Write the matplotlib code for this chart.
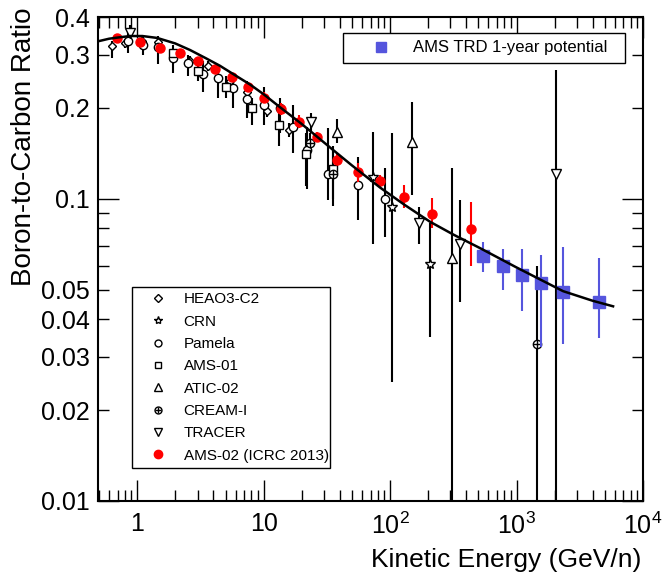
import numpy as np
import matplotlib
matplotlib.use('Agg')
import matplotlib.pyplot as plt
from matplotlib.ticker import FixedLocator, FixedFormatter
from matplotlib.lines import Line2D

plt.rcParams['font.family'] = ['Liberation Sans', 'DejaVu Sans']
plt.rcParams['mathtext.fontset'] = 'custom'
plt.rcParams['mathtext.rm'] = 'Liberation Sans'
plt.rcParams['mathtext.it'] = 'Liberation Sans:italic'
plt.rcParams['mathtext.default'] = 'regular'

# ---------------- data ----------------
curve_E = [0.5, 0.6, 0.7, 0.88, 1.1, 1.44, 2.0, 2.62, 3.5, 4.5, 5.74, 7.82, 10, 13.5, 20,
           33.5, 50, 83.4, 130, 207, 320, 515, 1000, 2333, 4000, 5800]
curve_y = [0.333, 0.339, 0.342, 0.346, 0.346, 0.341, 0.327, 0.311, 0.292, 0.276, 0.259, 0.239,
           0.222, 0.201, 0.177, 0.148, 0.129, 0.109, 0.0956, 0.0840, 0.0760, 0.0687, 0.0593,
           0.0495, 0.0460, 0.0441]

heao_E = [0.63, 0.80, 1.1, 1.45, 2.63, 3.6, 5.4, 7.4, 10.6, 15.9]
heao_y = [0.320, 0.327, 0.333, 0.330, 0.287, 0.275, 0.245, 0.225, 0.196, 0.169]
heao_lo = [0.292, 0.315, 0.320, 0.318, 0.277, 0.265, 0.235, 0.215, 0.187, 0.160]
heao_hi = [0.334, 0.339, 0.346, 0.342, 0.297, 0.285, 0.255, 0.235, 0.205, 0.178]

crn_E = [73.4, 104, 207]
crn_y = [0.118, 0.094, 0.0607]
crn_lo = [0.071, 0.0247, 0.035]
crn_hi = [0.166, 0.165, 0.083]

pam_E = [0.85, 1.12, 1.45, 1.93, 2.53, 3.33, 4.37, 5.74, 7.4, 10.0, 13.5, 17.0, 22.0, 32.3, 55.8, 91.0]
pam_y = [0.333, 0.323, 0.318, 0.293, 0.282, 0.259, 0.251, 0.233, 0.214, 0.205, 0.200, 0.173,
         0.145, 0.121, 0.111, 0.0998]
pam_lo = [0.305, 0.300, 0.280, 0.261, 0.255, 0.225, 0.215, 0.200, 0.185, 0.175, 0.165, 0.142,
          0.108, 0.0995, 0.085, 0.075]
pam_hi = [0.360, 0.350, 0.345, 0.305, 0.300, 0.285, 0.270, 0.260, 0.245, 0.235, 0.215, 0.205,
          0.173, 0.172, 0.1375, 0.127]

ams01_E = [1.93, 3.03, 5.05, 8.1, 13.3, 21.7, 35.3]
ams01_y = [0.304, 0.265, 0.234, 0.200, 0.176, 0.141, 0.126]
ams01_lo = [0.285, 0.245, 0.215, 0.175, 0.150, 0.110, 0.100]
ams01_hi = [0.322, 0.285, 0.255, 0.215, 0.200, 0.165, 0.150]

atic_E = [38.1, 149, 309]
atic_y = [0.167, 0.154, 0.0638]
atic_lo = [0.153, 0.103, 0.009]
atic_hi = [0.184, 0.209, 0.127]

cream_E = [23.3, 35.3, 1452]
cream_y = [0.153, 0.121, 0.033]
cream_lo = [0.140, 0.095, 0.009]
cream_hi = [0.165, 0.145, 0.0598]

tracer_E = [0.88, 23.7, 170, 357, 2052]
tracer_y = [0.355, 0.179, 0.0833, 0.0709, 0.121]
tracer_lo = [0.335, 0.165, 0.0709, 0.0455, 0.009]
tracer_hi = [0.375, 0.192, 0.0942, 0.099, 0.267]

ams02_E = [0.69, 1.06, 1.52, 2.19, 3.03, 4.13, 5.63, 7.55, 10.1, 13.7, 19.1, 26.4, 38.1, 55.8,
           83.4, 129, 215, 437]
ams02_y = [0.341, 0.331, 0.316, 0.304, 0.286, 0.269, 0.253, 0.234, 0.216, 0.198, 0.180, 0.160,
           0.135, 0.1228, 0.1146, 0.1011, 0.0894, 0.0797]
ams02_lo = [0.332, 0.322, 0.307, 0.295, 0.277, 0.260, 0.244, 0.225, 0.207, 0.189, 0.172, 0.1545,
            0.1296, 0.1134, 0.1095, 0.0935, 0.0802, 0.0598]
ams02_hi = [0.350, 0.340, 0.325, 0.313, 0.295, 0.278, 0.262, 0.243, 0.225, 0.207, 0.190, 0.166,
            0.1416, 0.1312, 0.1198, 0.1112, 0.1005, 0.0975]

trd_E = [543, 782, 1105, 1563, 2333, 4490]
trd_y = [0.0647, 0.0599, 0.0559, 0.0526, 0.0491, 0.0455]
trd_lo = [0.0573, 0.050, 0.0425, 0.0323, 0.0330, 0.0346]
trd_hi = [0.072, 0.0682, 0.068, 0.0652, 0.0694, 0.0637]

x_ticks = [1, 10, 100, 1000, 10000]
x_ticklabels = ['1', '10', '$10^2$', '$10^3$', '$10^4$']
y_major = [0.01, 0.1]
y_major_labels = ['0.01', '0.1']
y_minor = [0.02, 0.03, 0.04, 0.05, 0.06, 0.07, 0.08, 0.09, 0.2, 0.3, 0.4]
y_minor_labels = ['0.02', '0.03', '0.04', '0.05', '', '', '', '', '0.2', '0.3', '0.4']

# ---------------- figure ----------------
W, H = 663, 574
fig = plt.figure(figsize=(W / 100, H / 100), dpi=100)
ax = fig.add_axes([98 / W, 1 - 501 / H, 545 / W, 484 / H])
ax.set_xscale('log')
ax.set_yscale('log')

BLUE = '#5555dd'


def plot_set(E, y, lo, hi, marker, mfc, mec, ms, ecolor, z, elw=1.5):
    y = np.asarray(y)
    yerr = [y - np.asarray(lo), np.asarray(hi) - y]
    ax.errorbar(E, y, yerr=yerr, fmt='', linestyle='none', marker=marker, mfc=mfc, mec=mec,
                ms=ms, mew=1.0, ecolor=ecolor, elinewidth=elw, capsize=0, zorder=z)


plot_set(heao_E, heao_y, heao_lo, heao_hi, 'D', 'white', 'black', 4.5, 'black', 3)
plot_set(crn_E, crn_y, crn_lo, crn_hi, '*', 'white', 'black', 7, 'black', 3)
plot_set(pam_E, pam_y, pam_lo, pam_hi, 'o', 'white', 'black', 6, 'black', 3)
plot_set(ams01_E, ams01_y, ams01_lo, ams01_hi, 's', 'white', 'black', 6, 'black', 3)
plot_set(atic_E, atic_y, atic_lo, atic_hi, '^', 'white', 'black', 6.5, 'black', 3)
plot_set(cream_E, cream_y, cream_lo, cream_hi, 'o', 'white', 'black', 6, 'black', 3)
ax.plot(cream_E, cream_y, linestyle='none', marker='+', color='black', ms=6, mew=1.0, zorder=3.5)
plot_set(tracer_E, tracer_y, tracer_lo, tracer_hi, 'v', 'white', 'black', 6.5, 'black', 3)
plot_set(ams02_E, ams02_y, ams02_lo, ams02_hi, 'o', 'red', 'red', 6.5, 'red', 4)
plot_set(trd_E, trd_y, trd_lo, trd_hi, 's', BLUE, BLUE, 8, BLUE, 4)

ax.plot(curve_E, curve_y, color='black', lw=1.8, zorder=5)

ax.set_xlim(0.49, 1e4)
ax.set_ylim(0.01, 0.4)

ax.xaxis.set_major_locator(FixedLocator(x_ticks))
ax.xaxis.set_major_formatter(FixedFormatter(x_ticklabels))
ax.yaxis.set_major_locator(FixedLocator(y_major))
ax.yaxis.set_major_formatter(FixedFormatter(y_major_labels))
ax.yaxis.set_minor_locator(FixedLocator(y_minor))
ax.yaxis.set_minor_formatter(FixedFormatter(y_minor_labels))

ax.tick_params(which='both', direction='in', top=True, right=True, labelsize=18,
               width=1.0, colors='black')
ax.tick_params(axis='x', which='major', length=15, pad=8)
ax.tick_params(axis='x', which='minor', length=8)
ax.tick_params(axis='y', which='major', length=15, pad=6)
ax.tick_params(axis='y', which='minor', length=8, pad=6, labelsize=18)
for s in ax.spines.values():
    s.set_linewidth(1.5)

fig.text(24 / W, 1 - 8 / H, 'Boron-to-Carbon Ratio', rotation=90, ha='center', va='top',
         fontsize=20)
fig.text(641 / W, 1 - 567 / H, 'Kinetic Energy (GeV/n)', ha='right', va='baseline',
         fontsize=19)

# ---------------- legends ----------------
def mk(marker, mfc, mec, ms):
    return Line2D([], [], ls='none', marker=marker, mfc=mfc, mec=mec, ms=ms, mew=1.0)

cream_handle = (mk('o', 'white', 'black', 5), mk('+', 'black', 'black', 5))
h1 = [mk('D', 'white', 'black', 4), mk('*', 'white', 'black', 6), mk('o', 'white', 'black', 5),
      mk('s', 'white', 'black', 5), mk('^', 'white', 'black', 5.5),
      cream_handle, mk('v', 'white', 'black', 5.5),
      mk('o', 'red', 'red', 6)]
l1 = ['HEAO3-C2', 'CRN', 'Pamela', 'AMS-01', 'ATIC-02', 'CREAM-I', 'TRACER', 'AMS-02 (ICRC 2013)']
leg1 = ax.legend(h1, l1, loc='upper left', bbox_to_anchor=(0.062, 0.070, 0.364, 0.372),
                 mode='expand', borderaxespad=0, fancybox=False, edgecolor='black',
                 framealpha=1, fontsize=11, handlelength=2.7, handletextpad=0.35,
                 labelspacing=0.545, borderpad=0.35)
leg1.get_frame().set_linewidth(1.0)
ax.add_artist(leg1)

h2 = [mk('s', BLUE, BLUE, 7)]
leg2 = ax.legend(h2, ['AMS TRD 1-year potential'], loc='upper left',
                 bbox_to_anchor=(0.4495, 0.895, 0.5175, 0.072), mode='expand',
                 borderaxespad=0, fancybox=False, edgecolor='black', framealpha=1,
                 fontsize=12, handlelength=3.65, handletextpad=0.1, borderpad=0.45)
leg2.get_frame().set_linewidth(1.0)

fig.savefig('out.png', dpi=100)
